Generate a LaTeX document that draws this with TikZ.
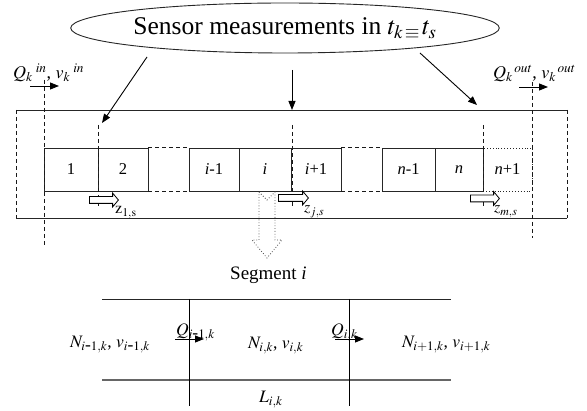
\documentclass[tikz,border=0pt]{standalone}
\usepackage{mathptmx}
\usepackage{fontspec}
\setmainfont{Liberation Serif}
\usetikzlibrary{arrows.meta,shapes.geometric,shapes.arrows}

\begin{document}
\begin{tikzpicture}[x=1pt,y=-1pt,
  solidln/.style={draw=black!85, line width=0.9pt},
  dashln/.style={draw=black!90, line width=0.9pt, dash pattern=on 4pt off 3pt},
  sensorln/.style={draw=black!90, line width=1pt, dash pattern=on 4pt off 3pt},
  cell/.style={draw=black!85, line width=0.9pt, minimum height=43pt, inner sep=0pt,
    font=\fontsize{16.5}{19}\selectfont},
  ghostcell/.style={cell, dotted},
  flowarr/.style={draw=black, line width=0.9pt, -{Triangle[length=9pt,width=7pt]}},
  zarrow/.style={single arrow, draw=black, fill=white, line width=0.8pt, inner sep=3pt,
    minimum width=13pt, single arrow head extend=3.5pt, single arrow tip angle=100},
  lab/.style={inner sep=0pt, font=\fontsize{17.5}{20}\selectfont},
  toplab/.style={inner sep=0pt, font=\fontsize{18}{21}\selectfont},
  zlab/.style={inner sep=0pt, font=\fontsize{16}{19}\selectfont},
]
\useasboundingbox (0,0) rectangle (587,411);

% sensor ellipse
\node[ellipse, draw=black!85, line width=0.9pt, minimum width=336pt, minimum height=50pt,
  inner sep=0pt, font=\fontsize{25.5}{29}\selectfont] (sensor) at (285,28)
  {Sensor measurements in $t_{k\,\equiv\,}t_s$};

% road stretch: solid top and bottom, dashed ends
\coordinate (otl) at (16,110);
\coordinate (otr) at (567,110);
\coordinate (obl) at (16,218);
\coordinate (obr) at (567,218);
\draw[solidln] (otl) -- (otr);
\draw[solidln] (obl) -- (obr);
\draw[dashln] (otl) -- (obl);
\draw[dashln] (otr) -- (obr);

% cells
\node[cell, minimum width=54pt] (c1)  at (71,169.5)    {1};
\node[cell, minimum width=50pt] (c2)  at (123,169.5)   {2};
\node[cell, minimum width=50pt] (cim) at (214,169.5)   {\textit{i}-1};
\node[cell, minimum width=52pt] (ci)  at (265,169.5)   {\textit{i}};
\node[cell, minimum width=50pt] (cip) at (316,169.5)   {\textit{i}+1};
\node[cell, minimum width=53pt] (cnm) at (408.5,169.5) {\textit{n}-1};
\node[cell, minimum width=48pt] (cn)  at (459,169.5)   {\textit{n}};
\node[ghostcell, minimum width=49pt] (cnp) at (507.5,169.5) {\textit{n}+1};

% omitted cells
\draw[dashln] (c2.north east) -- (cim.north west);
\draw[dashln] (c2.south east) -- (cim.south west);
\draw[dashln] (cip.north east) -- (cnm.north west);
\draw[dashln] (cip.south east) -- (cnm.south west);

% boundaries of the stretch
\coordinate (inT) at (44,80);
\coordinate (inB) at (44,247);
\coordinate (outT) at (532,82);
\coordinate (outB) at (532,238);
\draw[dashln] (inT) -- (inB);
\draw[dashln] (outT) -- (outB);

% sensor positions
\coordinate (p1T) at (98,125);  \coordinate (p1B) at (98,208);
\coordinate (pjT) at (292,125); \coordinate (pjB) at (292,208);
\coordinate (pmT) at (483,125); \coordinate (pmB) at (483,208);
\draw[sensorln] (p1T) -- (p1B);
\draw[sensorln] (pjT) -- (pjB);
\draw[dashln] (pmT) -- (pmB);

% measurement arrows
\coordinate (m1a) at (147,57);  \coordinate (m1b) at (102,123);
\coordinate (mja) at (292,70);  \coordinate (mjb) at (292,110);
\coordinate (mma) at (420,53);  \coordinate (mmb) at (477,105);
\draw[flowarr] (m1a) -- (m1b);
\draw[flowarr] (mja) -- (mjb);
\draw[flowarr] (mma) -- (mmb);

% inflow and outflow
\coordinate (ina) at (30,86);  \coordinate (inb) at (59,86);
\coordinate (outa) at (519,87); \coordinate (outb) at (548,87);
\draw[flowarr] (ina) -- (inb);
\draw[flowarr] (outa) -- (outb);
\node[toplab, anchor=base west] (qin) at (13,79) {$Q_k{}^{\;in}$, $v_k{}^{\;in}$};
\node[toplab, anchor=base west] (qout) at (493,79) {$Q_k{}^{\,out}$, $v_k{}^{\,out}$};

% sensor locations
\node[zarrow, minimum height=29pt] (z1) at (102.5,200) {};
\node[zarrow, minimum height=30pt] (zj) at (292,198) {};
\node[zarrow, minimum height=29pt] (zm) at (483.5,198.5) {};
\node[zlab, anchor=base west] (z1l) at (115,214) {$\mathrm{z}_{1,\mathrm{s}}$};
\node[zlab, anchor=base west] (zjl) at (304,213) {$z_{j,s}$};
\node[zlab, anchor=base west] (zml) at (494,213) {$z_{m,s}$};

% zoom onto segment i
\draw[black!70, line width=0.8pt, dotted]
  (259,192) -- (267,200) -- (275,192) -- (275,240) -- (282,240) -- (267,258)
  -- (252,240) -- (259,240) -- cycle;
\node[inner sep=0pt, anchor=base west, font=\fontsize{19}{22}\selectfont] (seg)
  at (230,280) {Segment \textit{i}};

% segment detail
\coordinate (sTL) at (102,299); \coordinate (sTR) at (451,299);
\coordinate (sBL) at (102,380); \coordinate (sBR) at (451,380);
\coordinate (b1T) at (189,299); \coordinate (b1B) at (189,406);
\coordinate (b2T) at (349,299); \coordinate (b2B) at (349,406);
\draw[solidln] (sTL) -- (sTR);
\draw[draw=black!60, line width=1.3pt] (sBL) -- (sBR);
\draw[draw=black, line width=0.9pt] (b1T) -- (b1B);
\draw[draw=black, line width=0.9pt] (b2T) -- (b2B);

\coordinate (f1a) at (175,339); \coordinate (f1b) at (204,339);
\coordinate (f2a) at (335,339); \coordinate (f2b) at (364,339);
\draw[flowarr] (f1a) -- (f1b);
\draw[flowarr] (f2a) -- (f2b);
\node[lab, anchor=base west] (q1) at (176,336) {$Q_{i\textrm{-}1,k}$};
\node[lab, anchor=base west] (q2) at (331,336) {$Q_{i,k}$};

\node[lab, anchor=base west] (nm) at (70,348)  {$N_{i\textrm{-}1,k}$, $v_{i\textrm{-}1,k}$};
\node[lab, anchor=base west] (ni) at (248,349) {$N_{i,k}$, $v_{i,k}$};
\node[lab, anchor=base west] (np) at (402,348) {$N_{i+1,k}$, $v_{i+1,k}$};
\node[lab, anchor=base west] (len) at (259,403) {$L_{i,k}$};
\end{tikzpicture}
\end{document}
